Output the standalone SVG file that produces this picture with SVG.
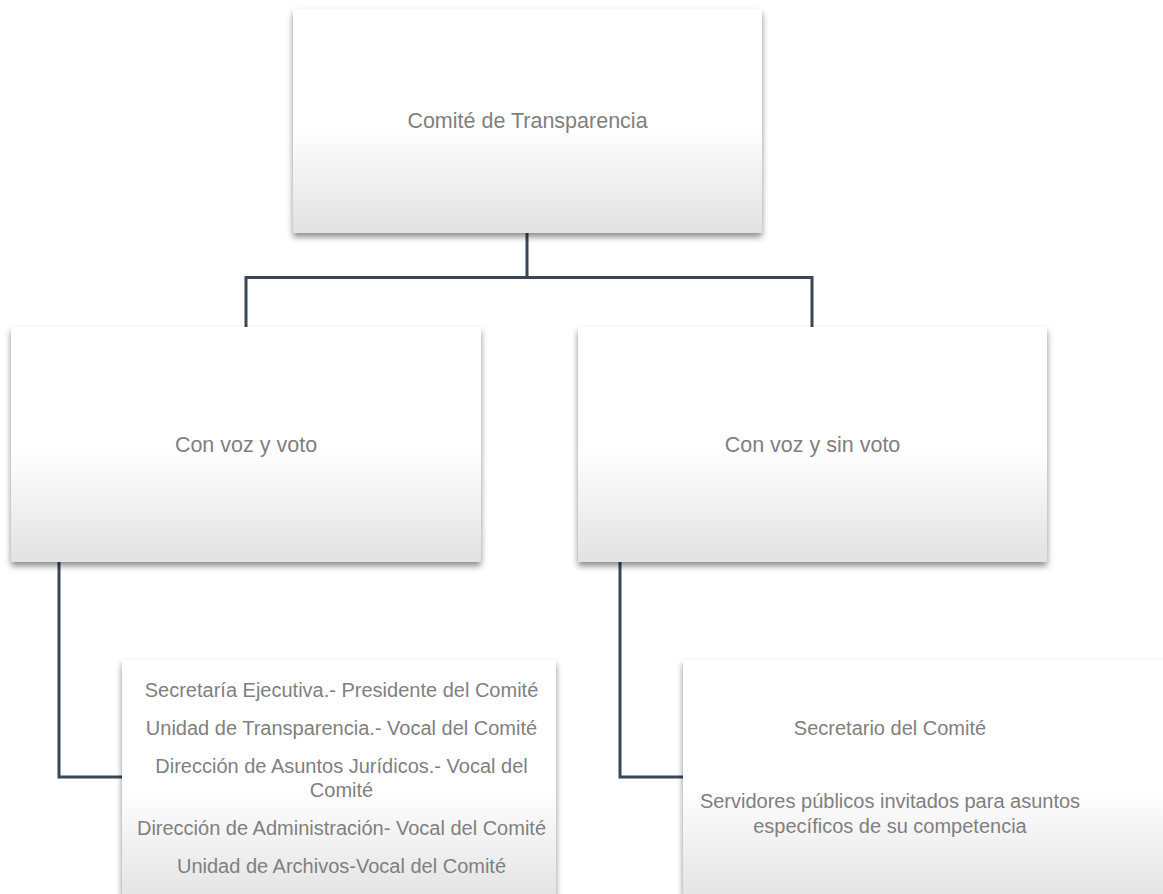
<svg xmlns="http://www.w3.org/2000/svg" width="1163" height="894" viewBox="0 0 1163 894">
  <defs>
    <linearGradient id="fill" x1="0" y1="0" x2="0" y2="1">
      <stop offset="0" stop-color="#ffffff"/>
      <stop offset="0.52" stop-color="#ffffff"/>
      <stop offset="1" stop-color="#e2e2e2"/>
    </linearGradient>
    <filter id="shadow" x="-5%" y="-5%" width="110%" height="115%">
      <feDropShadow dx="0" dy="4" stdDeviation="3" flood-color="#000" flood-opacity="0.45"/>
    </filter>
  </defs>
  <style>
    .box { fill: url(#fill); filter: url(#shadow); }
    .conn { fill: none; stroke: #3a4759; stroke-width: 3; }
    .lbl { font-family: "Liberation Sans", Arial, sans-serif; fill: #7f7f7f; text-anchor: middle; }
    .big { font-size: 21.5px; }
    .small { font-size: 20px; }
  </style>
  <rect width="1163" height="894" fill="#ffffff"/>
  <g id="connectors">
    <path class="conn" d="M527,233 V277.5"/>
    <path class="conn" d="M246,327 V277.5 H812 V327"/>
    <path class="conn" d="M59,562 V777 H130"/>
    <path class="conn" d="M620,562 V777 H690"/>
  </g>
  <g id="node-comite">
    <rect class="box" x="293" y="9" width="469" height="224"/>
    <text class="lbl big" x="527.5" y="128">Comité de Transparencia</text>
  </g>
  <g id="node-con-voto">
    <rect class="box" x="11" y="327" width="470" height="235"/>
    <text class="lbl big" x="246" y="452">Con voz y voto</text>
  </g>
  <g id="node-sin-voto">
    <rect class="box" x="578" y="327" width="469" height="235"/>
    <text class="lbl big" x="812.5" y="452">Con voz y sin voto</text>
  </g>
  <g id="node-miembros">
    <rect class="box" x="122" y="660" width="434" height="245"/>
    <text class="lbl small" x="341.5" y="697">Secretaría Ejecutiva.- Presidente del Comité</text>
    <text class="lbl small" x="341.5" y="735">Unidad de Transparencia.- Vocal del Comité</text>
    <text class="lbl small" x="341.5" y="773">Dirección de Asuntos Jurídicos.- Vocal del</text>
    <text class="lbl small" x="341.5" y="797">Comité</text>
    <text class="lbl small" x="341.5" y="835">Dirección de Administración- Vocal del Comité</text>
    <text class="lbl small" x="341.5" y="873">Unidad de Archivos-Vocal del Comité</text>
  </g>
  <g id="node-invitados">
    <rect class="box" x="683" y="660" width="500" height="245"/>
    <text class="lbl small" x="890" y="735">Secretario del Comité</text>
    <text class="lbl small" x="890" y="808">Servidores públicos invitados para asuntos</text>
    <text class="lbl small" x="890" y="833">específicos de su competencia</text>
  </g>
</svg>
